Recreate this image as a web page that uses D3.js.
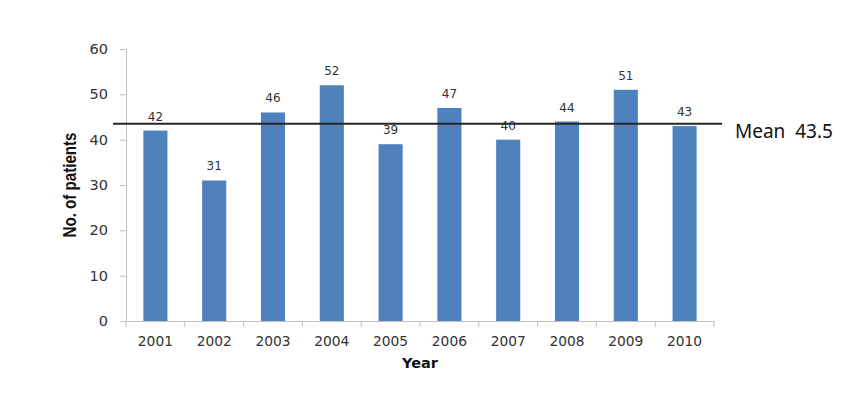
<!DOCTYPE html>
<html>
<head>
<meta charset="utf-8">
<script src="https://cdn.jsdelivr.net/npm/d3@7"></script>
<style>
  html, body { margin: 0; padding: 0; background: #fff; }
  svg { display: block; }
</style>
</head>
<body>
<div id="chart"></div>
<script>
// --- Data ---
const years = ["2001", "2002", "2003", "2004", "2005", "2006", "2007", "2008", "2009", "2010"];
const patients = [42, 31, 46, 52, 39, 47, 40, 44, 51, 43];
const yTicks = [0, 10, 20, 30, 40, 50, 60];
const meanValue = 43.5;

const width = 850, height = 397;
const plot = { left: 126, right: 714, top: 49, bottom: 321 };

const svg = d3.select("#chart").append("svg")
  .attr("width", width).attr("height", height);

const x = d3.scaleBand().domain(years).range([plot.left, plot.right]).padding(0);
const y = d3.scaleLinear().domain([0, 60]).range([plot.bottom, plot.top]);
const barW = x.bandwidth() * 0.41;

// --- Bars ---
svg.append("g").selectAll("rect")
  .data(years.map((yr, i) => ({ yr, v: patients[i] })))
  .join("rect")
  .attr("x", d => x(d.yr) + (x.bandwidth() - barW) / 2)
  .attr("y", d => y(d.v))
  .attr("width", barW)
  .attr("height", d => y(0) - y(d.v))
  .attr("fill", "#4f81bd");

// --- Value labels ---
svg.append("g").selectAll("text")
  .data(years.map((yr, i) => ({ yr, v: patients[i] })))
  .join("text")
  .attr("x", d => x(d.yr) + x.bandwidth() / 2)
  .attr("y", d => y(d.v) - 10)
  .attr("text-anchor", "middle")
  .attr("font-family", "DejaVu Sans, sans-serif")
  .attr("font-size", 12)
  .attr("fill", "#333")
  .text(d => d.v);

// --- Y axis ---
const yAxis = svg.append("g")
  .attr("transform", `translate(${plot.left},0)`)
  .call(d3.axisLeft(y).tickValues(yTicks).tickSize(6).tickPadding(12));
yAxis.select(".domain").attr("stroke", "#bfbfbf");
yAxis.selectAll(".tick line").attr("stroke", "#bfbfbf");
yAxis.selectAll(".tick text")
  .attr("font-family", "DejaVu Sans, sans-serif")
  .attr("font-size", 14.5)
  .attr("fill", "#333");

// --- X axis (ticks between categories) ---
const xAxis = svg.append("g")
  .attr("transform", `translate(0,${plot.bottom})`)
  .call(d3.axisBottom(x).tickSize(0).tickPadding(15).tickSizeOuter(0));
xAxis.select(".domain").attr("stroke", "#bfbfbf");
xAxis.selectAll(".tick text")
  .attr("font-family", "DejaVu Sans, sans-serif")
  .attr("font-size", 13.8)
  .attr("fill", "#333");
xAxis.selectAll("line.sep")
  .data(years.map(yr => x(yr)).concat([x(years[years.length - 1]) + x.bandwidth()]))
  .join("line")
  .attr("class", "sep")
  .attr("x1", d => d).attr("x2", d => d)
  .attr("y1", 0).attr("y2", 6)
  .attr("stroke", "#bfbfbf");

// --- Mean line ---
svg.append("line")
  .attr("x1", plot.left - 13).attr("x2", plot.right + 8)
  .attr("y1", y(meanValue)).attr("y2", y(meanValue))
  .attr("stroke", "#262626")
  .attr("stroke-width", 2);

svg.append("text")
  .attr("x", 735)
  .attr("y", 138)
  .attr("font-family", "Noto Sans, sans-serif")
  .attr("font-size", 19)
  .attr("fill", "#111")
  .attr("xml:space", "preserve")
  .text("Mean  " + meanValue);

// --- Axis titles ---
svg.append("text")
  .attr("transform", `translate(76,${(plot.top + plot.bottom) / 2}) rotate(-90)`)
  .attr("text-anchor", "middle")
  .attr("font-family", "Liberation Sans, Arial, sans-serif")
  .attr("font-weight", "bold")
  .attr("font-size", 18.5)
  .attr("textLength", 105)
  .attr("lengthAdjust", "spacingAndGlyphs")
  .attr("fill", "#111")
  .text("No. of patients");

svg.append("text")
  .attr("x", 420)
  .attr("y", 368)
  .attr("text-anchor", "middle")
  .attr("font-family", "DejaVu Sans, sans-serif")
  .attr("font-weight", "bold")
  .attr("font-size", 14.5)
  .attr("fill", "#111")
  .text("Year");
</script>
</body>
</html>
